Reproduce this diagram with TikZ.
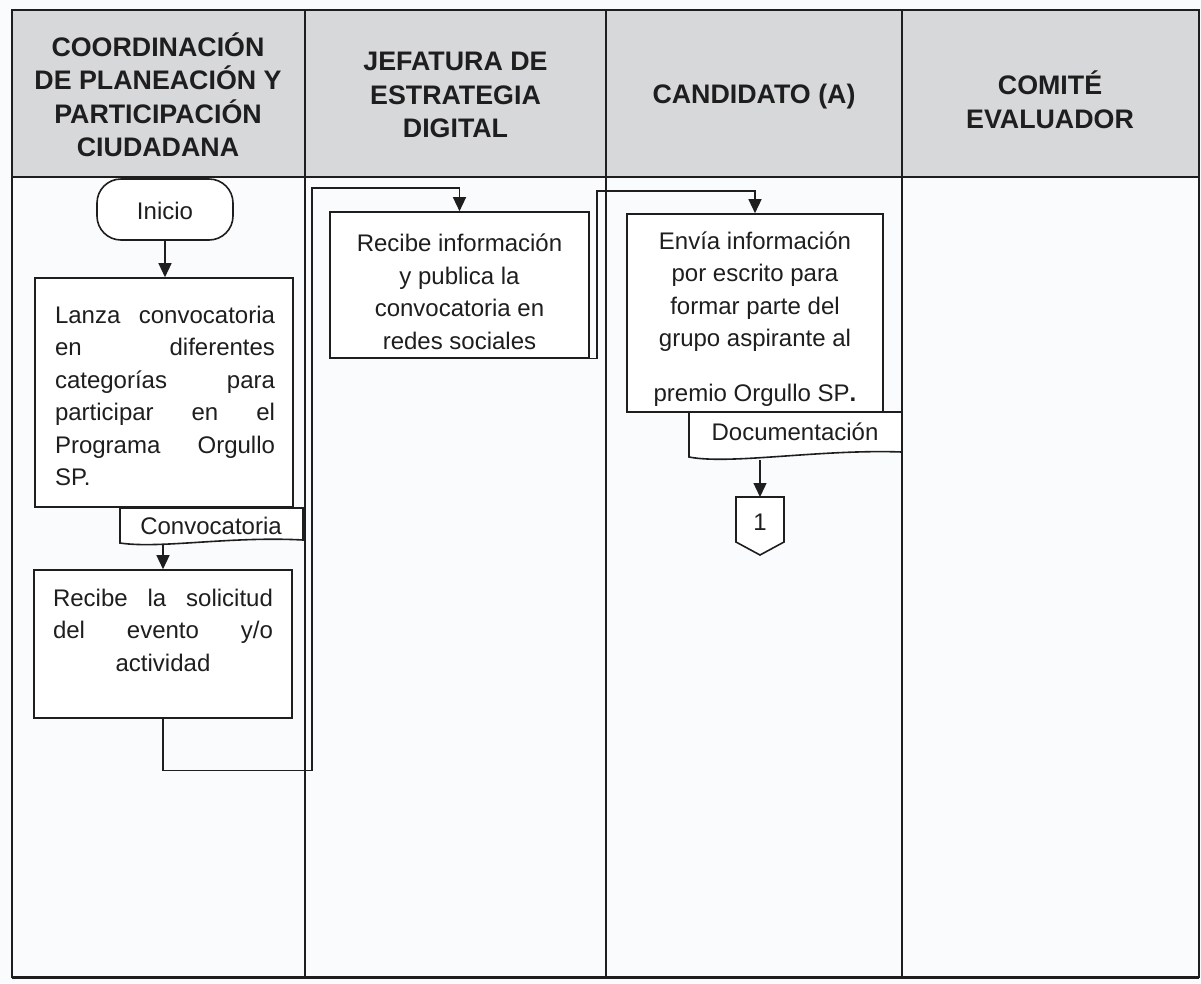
\documentclass[tikz,border=0pt]{standalone}
\usepackage{fontspec}
\setmainfont{Liberation Sans}
\usetikzlibrary{arrows.meta}
\definecolor{ink}{HTML}{1E1E1E}
\definecolor{hdr}{HTML}{D7D8DA}
\definecolor{bg}{HTML}{FAFBFD}
\newcommand\jl[1]{\makebox[220pt][l]{#1}}
\begin{document}
\begin{tikzpicture}[x=1pt,y=-1pt,
  tline/.style={line width=1.8pt, draw=ink},
  boxst/.style={draw=ink, line width=1.6pt, fill=white, inner sep=0pt},
  txt/.style={font=\fontsize{24}{32.5}\selectfont, text=ink, inner sep=0pt, align=center},
  hd/.style={font=\fontsize{26.8}{33.5}\selectfont\bfseries, text=ink, align=center, inner sep=0pt},
  conn/.style={draw=ink, line width=1.3pt},
  arr/.style={conn, -{Triangle[width=13pt,length=14pt]}}]
\useasboundingbox (0,0) rectangle (1201,983);
\fill[bg] (0,0) rectangle (1201,983);
% table
\fill[hdr] (12,10) rectangle (1199,177);
\draw[tline] (12,10) rectangle (1199,977);
\draw[tline] (12,177) -- (1199,177);
\draw[tline] (305,10) -- (305,977);
\draw[tline] (606,10) -- (606,977);
\draw[tline] (902,10) -- (902,977);
\draw[line width=3pt, draw=ink] (12,977) -- (1199,977);
% headers
\node[hd] (h1) at (158,95) {COORDINACIÓN\\DE PLANEACIÓN Y\\PARTICIPACIÓN\\CIUDADANA};
\node[hd] (h2) at (455.5,95) {JEFATURA DE\\ESTRATEGIA\\DIGITAL};
\node[hd] (h3) at (754,97) {CANDIDATO (A)};
\node[hd] (h4) at (1050,100) {COMITÉ\\EVALUADOR};
% flow nodes
\node[boxst, rounded corners=24pt, minimum width=136pt, minimum height=61pt] (inicio) at (165,209.5) {};
\node[txt] (tin) at (165,211) {Inicio};
\node[boxst, minimum width=258pt, minimum height=229pt] (b1) at (164,392.5) {};
\node[txt, text width=220pt, align=left] (t1) at (165,396) {%
\jl{Lanza\hfill convocatoria}\\
\jl{en\hfill diferentes}\\
\jl{categorías\hfill para}\\
\jl{participar\hfill en\hfill el}\\
\jl{Programa\hfill Orgullo}\\
\jl{SP.}};
% document Convocatoria
\draw[boxst] (120,508) -- (303,508) -- (303,540) .. controls (230,536) and (160,549) .. (120,543) -- cycle;
\node[txt] (tconv) at (211,526) {Convocatoria};
\coordinate (convbot) at (163,545);
\node[boxst, minimum width=258pt, minimum height=148pt] (b2) at (163,644) {};
\node[txt, text width=220pt, align=left] (t2) at (163,630) {%
\jl{Recibe\hfill la\hfill solicitud}\\
\jl{del\hfill evento\hfill y/o}\\
\jl{\hfill actividad\hfill}};
\node[boxst, minimum width=259pt, minimum height=146pt] (b3) at (459.5,285) {};
\node[txt] (t3) at (459.5,292) {Recibe información\\y publica la\\convocatoria en\\redes sociales};
\node[boxst, minimum width=256pt, minimum height=198pt] (b4) at (755,313) {};
\node[txt] (t4) at (755,319) {Envía información\\por escrito para\\formar parte del\\grupo aspirante al\\[22pt]premio Orgullo SP\textbf{.}};
% document Documentacion
\draw[boxst] (689,412) -- (902,412) -- (902,452) .. controls (820,449) and (730,465) .. (689,457) -- cycle;
\node[txt] (tdoc) at (795,432) {Documentación};
\coordinate (docbot) at (760,460);
% off-page connector
\draw[boxst] (736,497) -- (784,497) -- (784,542) -- (760,555) -- (736,542) -- cycle;
\node[txt] (p1) at (760,522) {1};
\coordinate (p1top) at (760,497);
% junctions
\coordinate (j1) at (312,188);
\coordinate (j2) at (597,191);
% connectors
\draw[arr] (inicio.south) -- (inicio.south |- b1.north);
\draw[arr] (convbot) -- (convbot |- b2.north);
\draw[arr] (b2.south) -- ++(0,52) -| (j1) -| (b3.north);
\draw[arr] (b3.south east) -| (j2) -| (b4.north);
\draw[arr] (docbot) -- (p1top);
\end{tikzpicture}
\end{document}
